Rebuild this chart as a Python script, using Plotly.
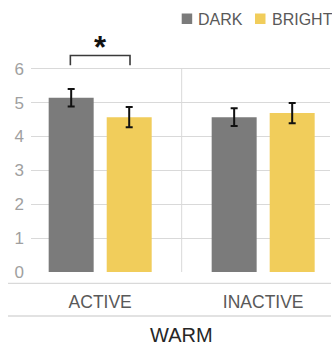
import plotly.graph_objects as go

# Mean scores with standard errors, grouped by condition
groups = ["ACTIVE", "INACTIVE"]
dark_mean = [5.14, 4.57]
dark_err = [0.26, 0.26]
bright_mean = [4.57, 4.69]
bright_err = [0.30, 0.30]
y_ticks = [0, 1, 2, 3, 4, 5, 6]
series_names = ["DARK", "BRIGHT"]
axis_title = "WARM"

DARK_COLOR = "#7b7b7b"
BRIGHT_COLOR = "#f1cd5b"
GRID = "#d9d9d9"
FONT = "Liberation Sans, Arial, sans-serif"

W, H = 332, 345
ML, MR, MT, MB = 31, 2, 28, 73
PW, PH = W - ML - MR, H - MT - MB


def px_x(px):
    return (px - ML) / PW


def px_y(py):
    return (H - MB - py) / PH


xpos = list(range(len(groups)))
offset = 0.178
bar_w = 0.276

fig = go.Figure()
fig.add_trace(go.Bar(
    x=[v - offset for v in xpos], y=dark_mean, width=bar_w, name=series_names[0],
    marker=dict(color=DARK_COLOR, line=dict(width=0)),
    error_y=dict(type="data", array=dark_err, color="#111111", thickness=2, width=3.5),
    showlegend=False,
))
fig.add_trace(go.Bar(
    x=[v + offset for v in xpos], y=bright_mean, width=bar_w, name=series_names[1],
    marker=dict(color=BRIGHT_COLOR, line=dict(width=0)),
    error_y=dict(type="data", array=bright_err, color="#111111", thickness=2, width=3.5),
    showlegend=False,
))

shapes = []
# divider between the two groups
shapes.append(dict(type="line", xref="x", yref="y", x0=0.5, x1=0.5, y0=0, y1=6,
                   line=dict(color=GRID, width=1)))
# significance bracket over the ACTIVE pair
shapes.append(dict(type="path", xref="x", yref="y",
                   path=f"M {-offset - 0.005},6.1 L {-offset - 0.005},6.39 L {offset + 0.005},6.39 L {offset + 0.005},6.1",
                   line=dict(color="#3a3a3a", width=1.6)))
# category band rules below the axis
for py in (283.3, 316):
    shapes.append(dict(type="line", xref="paper", yref="paper",
                       x0=px_x(8), x1=px_x(331), y0=px_y(py), y1=px_y(py),
                       line=dict(color=GRID, width=1.3)))

# legend swatches
annotations = []
legend_items = [(series_names[0], DARK_COLOR, 181.7), (series_names[1], BRIGHT_COLOR, 255)]
for name, color, sx in legend_items:
    shapes.append(dict(type="rect", xref="paper", yref="paper",
                       x0=px_x(sx), x1=px_x(sx + 10.5), y0=px_y(24), y1=px_y(13.5),
                       fillcolor=color, line=dict(width=0)))
    annotations.append(dict(xref="paper", yref="paper", x=px_x(sx + 14.5), y=px_y(19),
                            text=name, showarrow=False, xanchor="left", yanchor="middle",
                            font=dict(family=FONT, size=16, color="#595959")))

annotations.append(dict(xref="x", yref="y", x=0, y=6.62, text="<b>*</b>", showarrow=False,
                        xanchor="center", yanchor="middle",
                        font=dict(family=FONT, size=31, color="#111111")))
annotations.append(dict(xref="paper", yref="paper", x=px_x(181.7), y=px_y(335),
                        text=axis_title, showarrow=False, xanchor="center", yanchor="middle",
                        font=dict(family=FONT, size=20, color="#262626")))

fig.update_layout(
    width=W, height=H,
    margin=dict(l=ML, r=MR, t=MT, b=MB, pad=0),
    paper_bgcolor="white", plot_bgcolor="white",
    shapes=shapes, annotations=annotations,
    font=dict(family=FONT),
    xaxis=dict(range=[-0.4245, 1.41], tickvals=xpos, ticktext=groups,
               showgrid=False, zeroline=False, showline=False, ticks="",
               ticklabelstandoff=17,
               tickfont=dict(family=FONT, size=17.5, color="#595959")),
    yaxis=dict(range=[0, 7.2], tickvals=y_ticks, showgrid=True, gridcolor=GRID, gridwidth=1,
               zeroline=False, showline=False, ticks="", ticklabelstandoff=6,
               tickfont=dict(family=FONT, size=17, color="#a0a0a0")),
)

fig.write_html("out.html")
